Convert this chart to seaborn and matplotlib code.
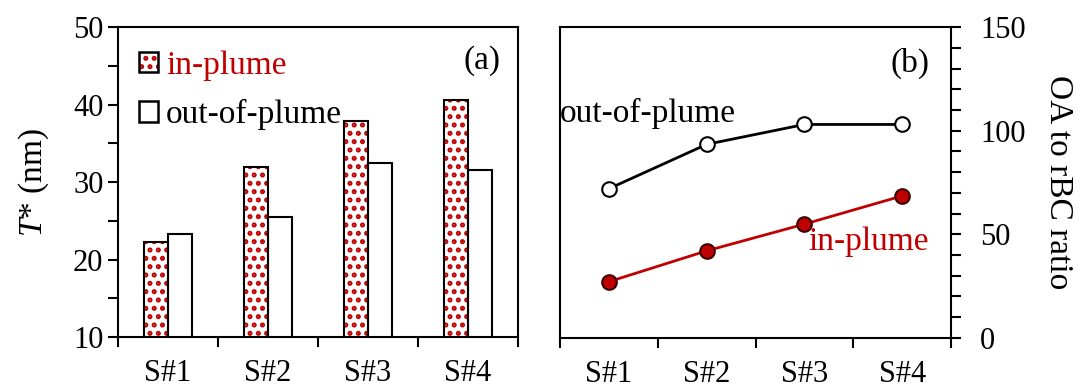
import matplotlib
matplotlib.use("Agg")
import matplotlib.pyplot as plt
from matplotlib.patches import Patch, Rectangle
from matplotlib.legend_handler import HandlerTuple
from matplotlib.ticker import MultipleLocator
import pandas as pd
import seaborn as sns

# Sampling sites
sites = ["S#1", "S#2", "S#3", "S#4"]
# (a) T* (nm)
tstar_in = [22.3, 32.0, 37.9, 40.6]
tstar_out = [23.3, 25.5, 32.4, 31.6]
# (b) OA to rBC ratio
ratio_in = [27.1, 42.0, 54.9, 68.5]
ratio_out = [72.0, 93.4, 103.0, 103.0]

RED = "#c00000"

sns.set_theme(style="ticks")
plt.rcParams["font.family"] = ["Liberation Serif", "DejaVu Serif"]
plt.rcParams["mathtext.fontset"] = "custom"
plt.rcParams["mathtext.it"] = "Liberation Serif:italic"
plt.rcParams["mathtext.rm"] = "Liberation Serif"
plt.rcParams["hatch.linewidth"] = 2.4
for k in ("text.color", "axes.labelcolor", "xtick.color", "ytick.color",
          "xtick.labelcolor", "ytick.labelcolor"):
    plt.rcParams[k] = "black"
FS = 24
TFS = 22

fig = plt.figure(figsize=(10.86, 3.87), dpi=100)
ax1 = fig.add_axes([0.1087, 0.129, 0.3683, 0.801])
ax2 = fig.add_axes([0.5157, 0.127, 0.3600, 0.803])

# ---- (a) bar chart ----
df = pd.DataFrame({
    "site": sites * 2,
    "T": tstar_in + tstar_out,
    "group": ["in-plume"] * 4 + ["out-of-plume"] * 4,
})
sns.barplot(data=df, x="site", y="T", hue="group",
            hue_order=["in-plume", "out-of-plume"],
            palette={"in-plume": "white", "out-of-plume": "white"},
            width=0.48, saturation=1, errorbar=None, legend=False, ax=ax1)

bars = list(ax1.patches)
for i, p in enumerate(bars):
    if i < 4:
        p.set_hatch("..")
        p.set_edgecolor(RED)
        p.set_linewidth(0)
        ax1.add_patch(Rectangle(p.get_xy(), p.get_width(), p.get_height(),
                                fill=False, edgecolor="black", linewidth=1.5,
                                zorder=p.get_zorder() + 0.1))
    else:
        p.set_edgecolor("black")
        p.set_linewidth(1.5)

h_in = (Patch(facecolor="white", edgecolor=RED, hatch="..", linewidth=0),
        Patch(fill=False, edgecolor="black", linewidth=1.8))
h_out = Patch(facecolor="white", edgecolor="black", linewidth=1.8)
leg = ax1.legend([h_in, h_out], ["in-plume", "out-of-plume"],
                 handler_map={tuple: HandlerTuple(ndivide=1, pad=0)},
                 loc="upper left", bbox_to_anchor=(-0.005, 1.0), frameon=False,
                 fontsize=FS, handlelength=0.55, handleheight=0.55,
                 handletextpad=0.25, labelspacing=0.55, borderaxespad=0.3)
leg.get_texts()[0].set_color(RED)

ax1.set_ylim(10, 50)
ax1.yaxis.set_major_locator(MultipleLocator(10))
ax1.yaxis.set_minor_locator(MultipleLocator(5))
ax1.set_ylabel("$T$* (nm)", fontsize=FS, labelpad=16)
ax1.set_xlabel("")
ax1.text(0.955, 0.893, "(a)", transform=ax1.transAxes, ha="right",
         va="center", fontsize=FS)

# ---- (b) line chart ----
xs = list(range(len(sites)))
sns.lineplot(x=xs, y=ratio_out, color="black", linewidth=2, marker="o",
             markersize=10.5, markerfacecolor="white", markeredgecolor="black",
             markeredgewidth=1.5, ax=ax2, zorder=3)
sns.lineplot(x=xs, y=ratio_in, color=RED, linewidth=2, marker="o",
             markersize=10.5, markerfacecolor=RED, markeredgecolor="#3a0000",
             markeredgewidth=1.5, ax=ax2, zorder=3)
ax2.text(0.0, 0.723, "out-of-plume", transform=ax2.transAxes, ha="left",
         va="center", fontsize=FS)
ax2.text(0.942, 0.309, "in-plume", transform=ax2.transAxes, ha="right",
         va="center", fontsize=FS, color=RED)
ax2.text(0.944, 0.884, "(b)", transform=ax2.transAxes, ha="right",
         va="center", fontsize=FS)

ax2.set_ylim(0, 150)
ax2.yaxis.set_major_locator(MultipleLocator(50))
ax2.yaxis.set_minor_locator(MultipleLocator(10))
ax2.yaxis.tick_right()
ax2.yaxis.set_label_position("right")
ax2.set_ylabel("OA to rBC ratio", fontsize=FS, rotation=270, labelpad=34)

for ax in (ax1, ax2):
    ax.set_xlim(-0.5, 3.5)
    ax.set_xticks([-0.5, 0.5, 1.5, 2.5, 3.5], labels=[""] * 5)
    ax.set_xticks(xs, labels=sites, minor=True)
    ax.tick_params(axis="x", which="major", direction="out", length=7,
                   width=1.5, color="black")
    ax.tick_params(axis="x", which="minor", length=0, pad=16,
                   labelsize=TFS, labelcolor="black")
    ax.tick_params(axis="y", which="both", direction="out", width=1.5,
                   color="black", labelsize=TFS, labelcolor="black")
    ax.tick_params(axis="y", which="major", length=7)
    ax.tick_params(axis="y", which="minor", length=7)
    for s in ax.spines.values():
        s.set_visible(True)
        s.set_color("black")
        s.set_linewidth(1.5)
    ax.grid(False)
ax2.tick_params(axis="y", which="major", pad=14)

fig.savefig("out.png", dpi=100)
